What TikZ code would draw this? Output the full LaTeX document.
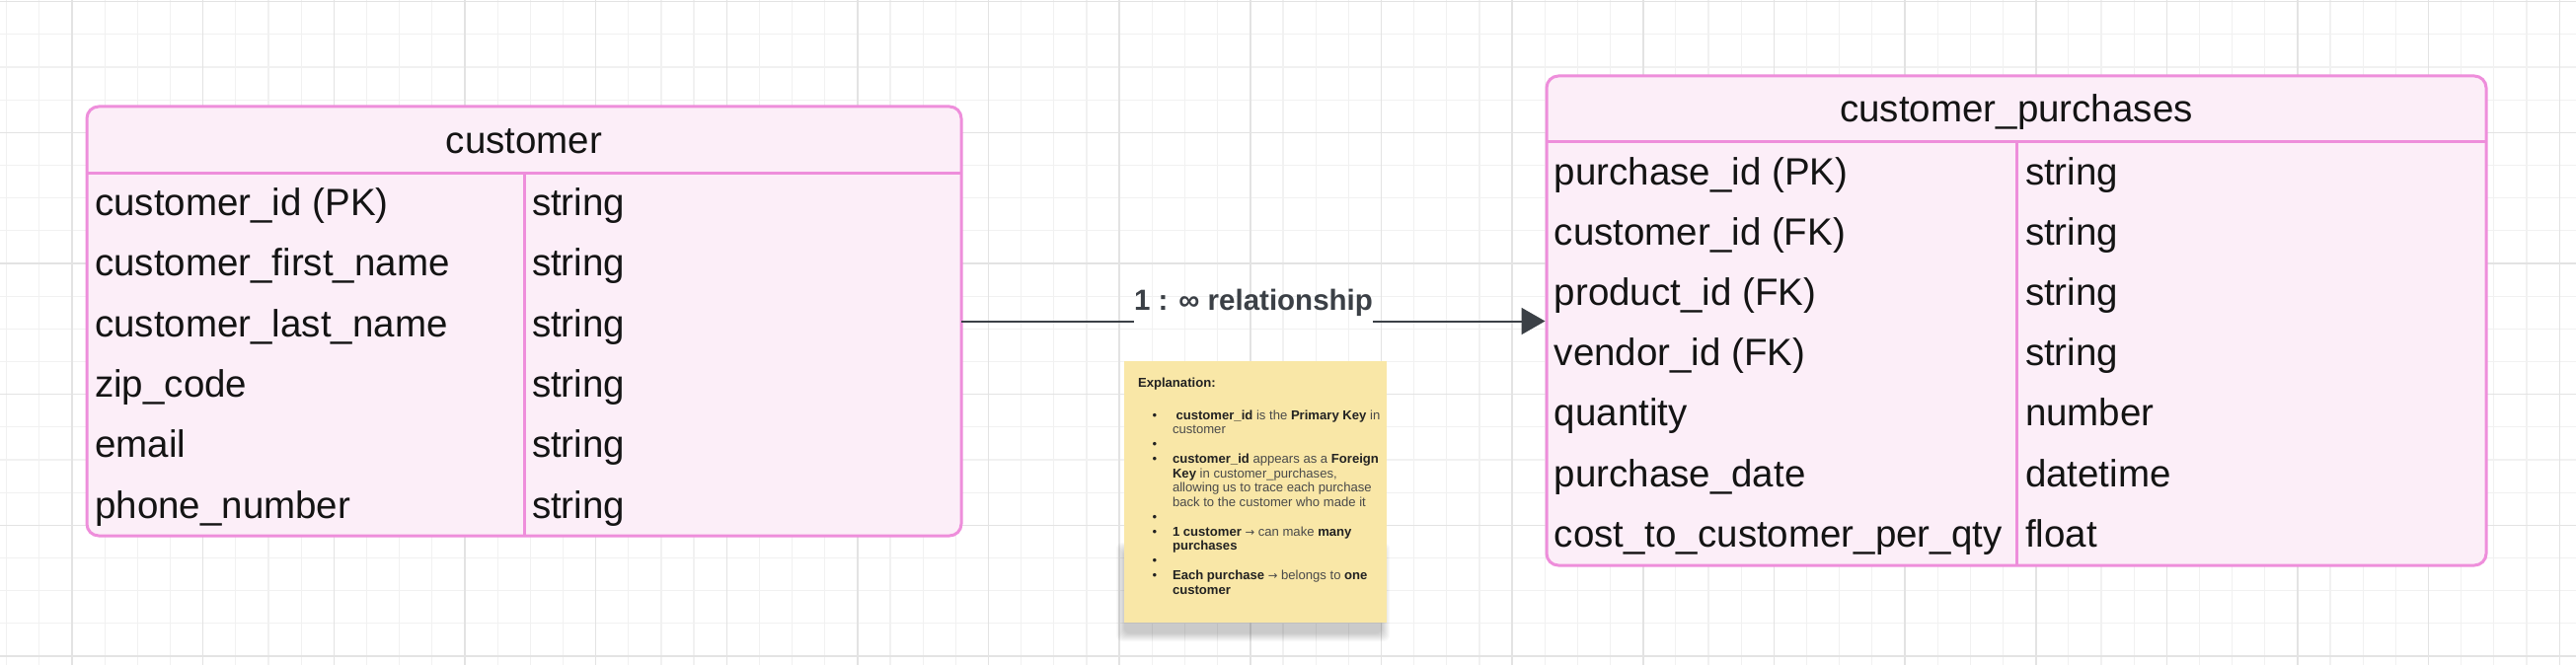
\documentclass[tikz,border=0pt]{standalone}
\usepackage{fontspec}
\setmainfont{Liberation Sans}
\newfontfamily\arrowfont{DejaVu Sans}
\usetikzlibrary{arrows.meta}
\definecolor{pinkline}{HTML}{EE8EDB}
\definecolor{pinkfill}{HTML}{FCEEF8}
\definecolor{gridminor}{HTML}{F1F1F1}
\definecolor{gridmajor}{HTML}{E3E3E3}
\definecolor{connc}{HTML}{3B4046}
\definecolor{notefill}{HTML}{F9E7A7}
\definecolor{notetext}{HTML}{4A4A4A}
\definecolor{notebold}{HTML}{222222}
\definecolor{tabletext}{HTML}{141414}
\tikzset{
  tbl/.style={draw=pinkline, fill=pinkfill, line width=3pt, rounded corners=12pt, inner sep=0pt, outer sep=0pt, anchor=north west},
  tblline/.style={draw=pinkline, line width=3pt},
  fieldtxt/.style={anchor=base west, inner sep=0pt, outer sep=0pt, font=\fontsize{38.5}{40}\selectfont, text=tabletext},
  headtxt/.style={anchor=base, inner sep=0pt, outer sep=0pt, font=\fontsize{38.5}{40}\selectfont, text=tabletext},
  reltxt/.style={anchor=base, inner sep=0pt, outer sep=0pt, font=\bfseries\fontsize{29.5}{31}\selectfont, text=connc},
  conn/.style={draw=connc, line width=2pt},
  notebox/.style={fill=notefill, inner sep=0pt, outer sep=0pt, anchor=north west},
  notetxt/.style={anchor=base west, inner sep=0pt, outer sep=0pt, font=\fontsize{13.1}{15}\selectfont, text=notetext},
  bul/.style={anchor=base, inner sep=0pt, outer sep=0pt, font=\fontsize{13.1}{15}\selectfont, text=notebold},
}
\newcommand{\nb}[1]{\textbf{\color{notebold}#1}}
\newcommand{\narr}{{\arrowfont\fontsize{11.5}{15}\selectfont →}}
\begin{document}
\begin{tikzpicture}[x=1pt, y=-1pt]
% background and bounds
\fill[white] (0,0) rectangle (2610,674);
\useasboundingbox (0,0) rectangle (2610,674);
% grid
\foreach \i in {0,...,78} {\draw[gridminor, line width=1.2pt] ({6.7+33.16*\i},0) -- ({6.7+33.16*\i},674);}
\foreach \i in {0,...,20} {\draw[gridminor, line width=1.2pt] (0,{1.7+33.16*\i}) -- (2610,{1.7+33.16*\i});}
\foreach \i in {0,...,19} {\draw[gridmajor, line width=1.5pt] ({73+132.65*\i},0) -- ({73+132.65*\i},674);}
\foreach \i in {0,...,5} {\draw[gridmajor, line width=1.5pt] (0,{1.7+132.65*\i}) -- (2610,{1.7+132.65*\i});}

% ---- customer table
\node[tbl, minimum width=886pt, minimum height=435pt] (cust) at (88,108) {};
\draw[tblline] ([yshift=-67pt]cust.north west) -- ([yshift=-67pt]cust.north east);
\draw[tblline] ([yshift=-67pt]cust.north) -- (cust.south);
\node[headtxt] (custh) at (531,155) {customer};
\node[fieldtxt] (c1n) at (96.2,218.5) {customer\_id (PK)};
\node[fieldtxt] (c2n) at (96.2,279.8) {customer\_first\_name};
\node[fieldtxt] (c3n) at (96.2,341.1) {customer\_last\_name};
\node[fieldtxt] (c4n) at (96.2,402.4) {zip\_code};
\node[fieldtxt] (c5n) at (96.2,463.7) {email};
\node[fieldtxt] (c6n) at (96.2,525) {phone\_number};
\node[fieldtxt] (c1t) at (539,218.5) {string};
\node[fieldtxt] (c2t) at (539,279.8) {string};
\node[fieldtxt] (c3t) at (539,341.1) {string};
\node[fieldtxt] (c4t) at (539,402.4) {string};
\node[fieldtxt] (c5t) at (539,463.7) {string};
\node[fieldtxt] (c6t) at (539,525) {string};

% ---- customer_purchases table
\node[tbl, minimum width=952pt, minimum height=496pt] (purch) at (1567,77) {};
\draw[tblline] ([yshift=-67pt]purch.north west) -- ([yshift=-67pt]purch.north east);
\draw[tblline] ([yshift=-67pt]purch.north) -- (purch.south);
\node[headtxt] (purchh) at (2043,124) {customer\_purchases};
\node[fieldtxt] (p1n) at (1574.8,187.5) {purchase\_id (PK)};
\node[fieldtxt] (p2n) at (1574.8,248.6) {customer\_id (FK)};
\node[fieldtxt] (p3n) at (1574.8,309.7) {product\_id (FK)};
\node[fieldtxt] (p4n) at (1574.8,370.8) {vendor\_id (FK)};
\node[fieldtxt] (p5n) at (1574.8,431.9) {quantity};
\node[fieldtxt] (p6n) at (1574.8,493) {purchase\_date};
\node[fieldtxt] (p7n) at (1574.8,554.1) {cost\_to\_customer\_per\_qty};
\node[fieldtxt] (p1t) at (2052,187.5) {string};
\node[fieldtxt] (p2t) at (2052,248.6) {string};
\node[fieldtxt] (p3t) at (2052,309.7) {string};
\node[fieldtxt] (p4t) at (2052,370.8) {string};
\node[fieldtxt] (p5t) at (2052,431.9) {number};
\node[fieldtxt] (p6t) at (2052,493) {datetime};
\node[fieldtxt] (p7t) at (2052,554.1) {float};

% ---- relationship connector
\node[reltxt] (rel) at (1270,314) {1 : ∞ relationship};
\draw[conn] (cust.east) -- (rel.west |- cust.east);
\draw[conn, -{Triangle[length=24pt, width=27pt]}, shorten >=1.5pt] (rel.east |- cust.east) -- (purch.west |- cust.east);

% ---- sticky note
\foreach \k in {0,...,8} {\fill[black, opacity=0.025, rounded corners=6pt] ({1131+\k},{550+\k}) rectangle ({1408-\k},{650-\k});}
\node[notebox, minimum width=266pt, minimum height=265pt] (note) at (1139,366) {};
\node[notetxt, font=\bfseries\fontsize{13.1}{15}\selectfont, text=notebold] (expl) at (1153,392) {Explanation:};
\foreach \yy/\nm in {425/b0, 454.5/b2, 469.25/b3, 528.25/b7, 543/b8, 572.5/b10, 587.25/b11} {\node[bul] (\nm) at (1170,\yy) {•};}
\node[notetxt] (t0) at (1191.5,425) {\nb{customer\_id} is the \nb{Primary Key} in};
\node[notetxt] (t1) at (1188,439.75) {customer};
\node[notetxt] (t3) at (1188,469.25) {\nb{customer\_id} appears as a \nb{Foreign}};
\node[notetxt] (t4) at (1188,484) {\nb{Key} in customer\_purchases,};
\node[notetxt] (t5) at (1188,498.75) {allowing us to trace each purchase};
\node[notetxt] (t6) at (1188,513.5) {back to the customer who made it};
\node[notetxt] (t8) at (1188,543) {\nb{1 customer} \narr{} can make \nb{many}};
\node[notetxt] (t9) at (1188,557.75) {\nb{purchases}};
\node[notetxt] (t11) at (1188,587.25) {\nb{Each purchase} \narr{} belongs to \nb{one}};
\node[notetxt] (t12) at (1188,602) {\nb{customer}};
\end{tikzpicture}
\end{document}
